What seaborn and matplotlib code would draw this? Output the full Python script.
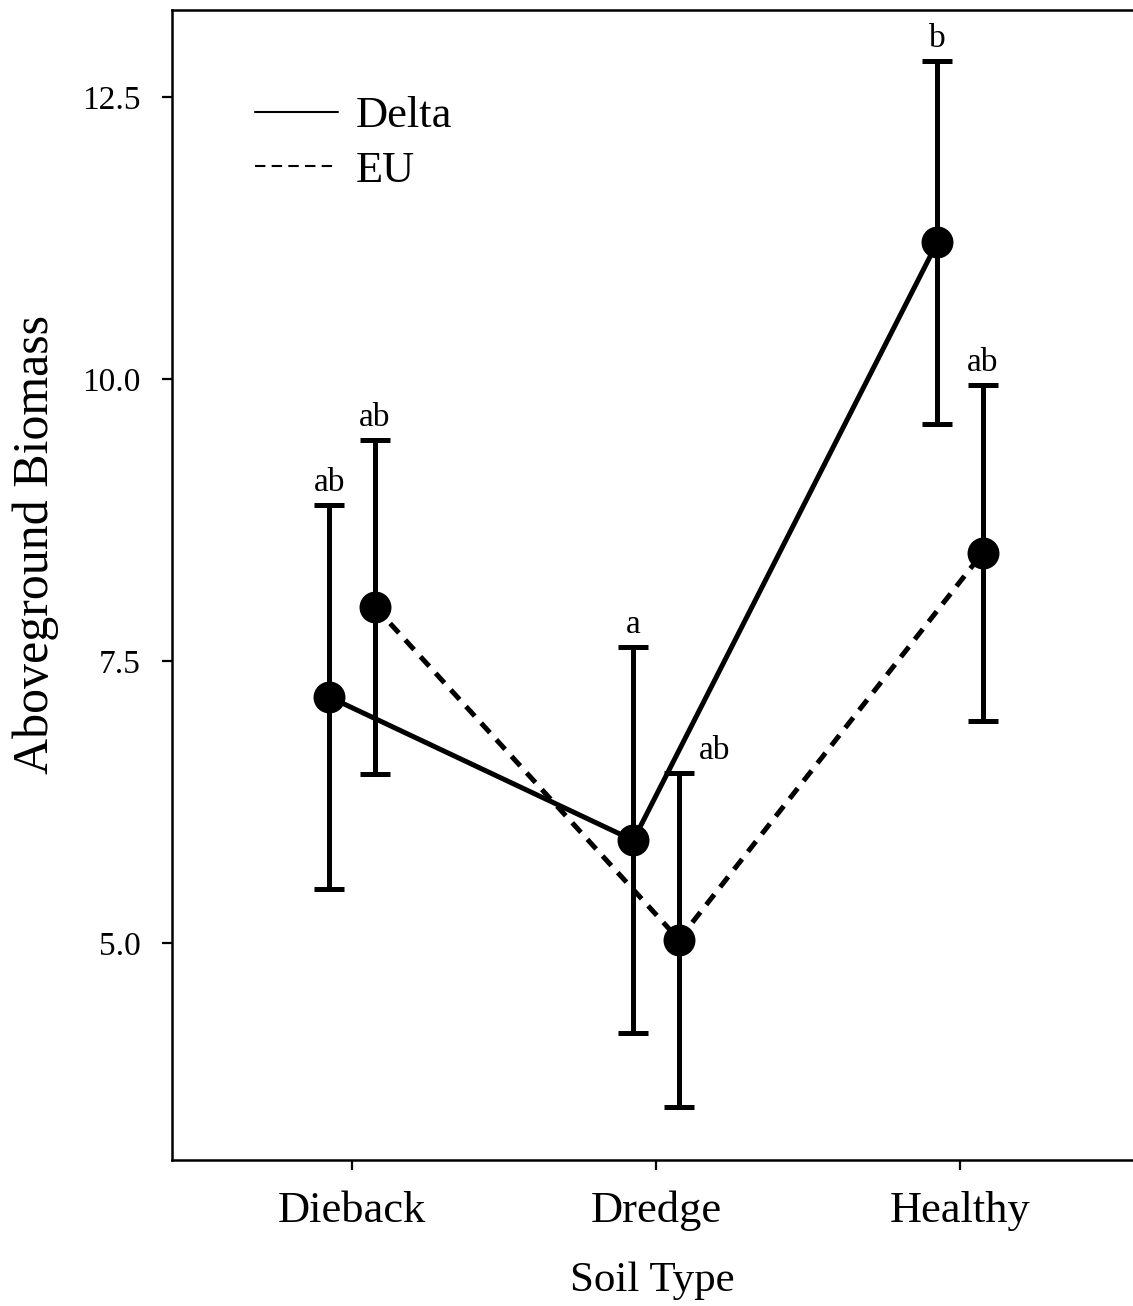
import numpy as np
import pandas as pd
import matplotlib
matplotlib.use("Agg")
import matplotlib.pyplot as plt
from matplotlib.lines import Line2D
import seaborn as sns

# Mean aboveground biomass (± SE) by soil type and plant source
soil_types = ["Dieback", "Dredge", "Healthy"]
sources = ["Delta", "EU"]
delta_mean = [7.18, 5.91, 11.21]
delta_se = [1.70, 1.71, 1.61]
eu_mean = [7.98, 5.03, 8.46]
eu_se = [1.48, 1.48, 1.49]
delta_letters = ["ab", "a", "b"]
eu_letters = ["ab", "ab", "ab"]
y_ticks = [5.0, 7.5, 10.0, 12.5]

sns.set_theme(style="white")
plt.rcParams["font.family"] = ["Liberation Serif", "DejaVu Serif"]
plt.rcParams["text.color"] = "black"
plt.rcParams["axes.labelcolor"] = "black"

df = pd.DataFrame({
    "Soil Type": soil_types * 2,
    "Source": [sources[0]] * 3 + [sources[1]] * 3,
    "mean": delta_mean + eu_mean,
    "se": delta_se + eu_se,
    "letter": delta_letters + eu_letters,
})
offset = {"Delta": -0.075, "EU": 0.075}
df["x"] = df["Soil Type"].map({s: i for i, s in enumerate(soil_types)}) + df["Source"].map(offset)

fig = plt.figure(figsize=(11.33, 13.06), dpi=100)
ax = fig.add_axes([0.152, 0.1118, 0.848, 0.8805])

sns.lineplot(data=df, x="x", y="mean", style="Source", style_order=sources,
             dashes={"Delta": "", "EU": (2.6, 1.9)}, color="black",
             linewidth=3.6, marker="o", markersize=23, markeredgewidth=0,
             legend=False, ax=ax, sort=True, estimator=None)

for _, row in df.iterrows():
    ax.errorbar(row["x"], row["mean"], yerr=row["se"], fmt="none", ecolor="black",
                elinewidth=3.6, capsize=11, capthick=3.6, zorder=1)
    dx = 26 if (row["Soil Type"] == "Dredge" and row["Source"] == "EU") else 0
    ax.annotate(row["letter"], (row["x"], row["mean"] + row["se"]),
                xytext=(dx, 5), textcoords="offset points",
                ha="center", va="bottom", fontsize=24, color="black")

ax.set_xlim(-0.592, 2.569)
ax.set_ylim(3.076, 13.27)
ax.set_xticks(range(len(soil_types)))
ax.set_xticklabels(soil_types)
ax.set_yticks(y_ticks)
ax.set_yticklabels([f"{t:.1f}" for t in y_ticks])

ax.tick_params(axis="x", labelsize=32, length=7, width=1.6, direction="out",
               bottom=True, pad=15, colors="black")
ax.tick_params(axis="y", labelsize=24, length=7, width=1.6, direction="out",
               left=True, pad=16, colors="black")
ax.set_xlabel("Soil Type", fontsize=31, labelpad=22, color="black")
ax.set_ylabel("Aboveground Biomass", fontsize=36, color="black")
ax.yaxis.set_label_coords(-0.118, 0.535)

for side in ["left", "bottom", "top"]:
    ax.spines[side].set_visible(True)
    ax.spines[side].set_color("black")
    ax.spines[side].set_linewidth(1.8)
ax.spines["right"].set_visible(False)

handles = [Line2D([0], [0], color="black", lw=1.5, linestyle="-"),
           Line2D([0], [0], color="black", lw=1.5, linestyle=(0, (5, 3)))]
leg = ax.legend(handles, sources, loc="upper left", bbox_to_anchor=(0.045, 0.96),
                frameon=False, fontsize=32, handlelength=1.85, handletextpad=0.4,
                labelspacing=0.33)
for t in leg.get_texts():
    t.set_color("black")

fig.savefig("out.png", dpi=100, facecolor="white")
